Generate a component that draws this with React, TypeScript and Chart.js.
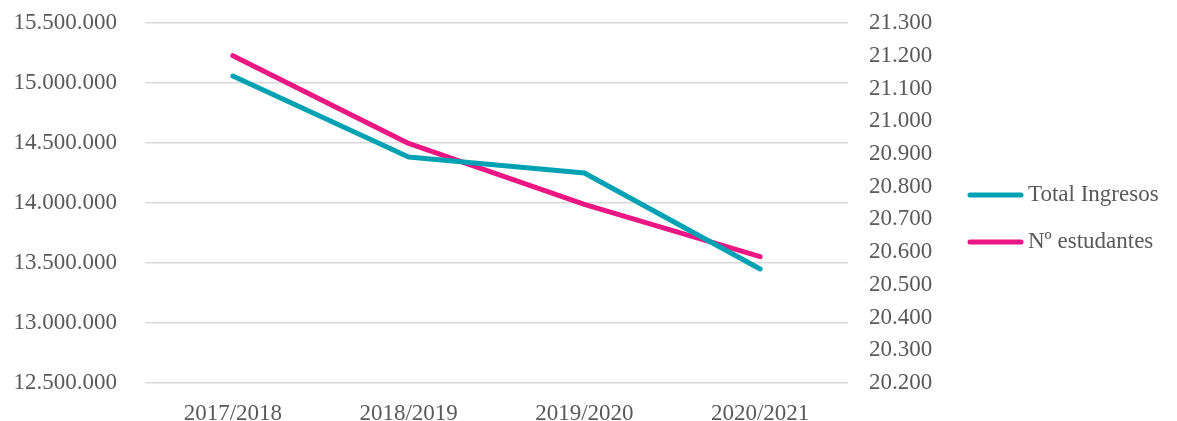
import React, { useEffect, useRef } from "react";
import { Chart, registerables } from "chart.js";

Chart.register(...registerables);

const categories = ["2017/2018", "2018/2019", "2019/2020", "2020/2021"];
const totalIngresos = [15058000, 14383000, 14250000, 13450000];
const numEstudantes = [21200, 20932, 20746, 20586];
const seriesNames = ["Total Ingresos", "Nº estudantes"];
const leftTicks = { min: 12500000, max: 15500000, step: 500000 };
const rightTicks = { min: 20200, max: 21300, step: 100 };

const TEAL = "#00a1b3";
const PINK = "#eb1684";
const TEXT = "#595959";
const FONT = "'Liberation Serif', 'Times New Roman', serif";
const FS = 23;

const fmt = (v: number) =>
  Math.round(v).toString().replace(/\B(?=(\d{3})+(?!\d))/g, ".");

const legendPlugin = {
  id: "customLegend",
  afterDraw(chart: any) {
    const ctx = chart.ctx;
    const x0 = 968;
    const lineLen = 55;
    const ys = [195, 242];
    ctx.save();
    chart.data.datasets.forEach((ds: any, i: number) => {
      const y = ys[i];
      ctx.strokeStyle = ds.borderColor;
      ctx.lineWidth = 5;
      ctx.lineCap = "round";
      ctx.beginPath();
      ctx.moveTo(x0 + 2, y);
      ctx.lineTo(x0 + lineLen - 2, y);
      ctx.stroke();
      ctx.fillStyle = TEXT;
      ctx.font = `${FS}px ${FONT}`;
      ctx.textAlign = "left";
      ctx.textBaseline = "middle";
      ctx.fillText(ds.label, x0 + lineLen + 5, y);
    });
    ctx.restore();
  },
};

export default function App() {
  const ref = useRef<HTMLCanvasElement>(null);
  useEffect(() => {
    let chart: any = null;
    let cancelled = false;
    const make = () => {
      if (cancelled || !ref.current) return;
      chart = new Chart(ref.current, {
        type: "line",
        data: {
          labels: categories,
          datasets: [
            {
              label: seriesNames[0],
              data: totalIngresos,
              yAxisID: "y",
              borderColor: TEAL,
              backgroundColor: TEAL,
              borderWidth: 5,
              borderCapStyle: "round",
              borderJoinStyle: "round",
              pointRadius: 0,
              tension: 0,
            },
            {
              label: seriesNames[1],
              data: numEstudantes,
              yAxisID: "y1",
              borderColor: PINK,
              backgroundColor: PINK,
              borderWidth: 5,
              borderCapStyle: "round",
              borderJoinStyle: "round",
              pointRadius: 0,
              tension: 0,
            },
          ],
        },
        options: {
          animation: false,
          responsive: false,
          maintainAspectRatio: false,
          layout: { padding: { left: 0, right: 239, top: 23, bottom: 0 } },
          plugins: {
            tooltip: { enabled: false },
            legend: { display: false },
          },
          scales: {
            x: {
              offset: true,
              grid: { display: false, drawTicks: false },
              border: { display: false },
              ticks: { color: TEXT, font: { family: FONT, size: FS }, padding: 17, maxRotation: 0 },
              afterFit: (s: any) => {
                s.height = 57;
                s.paddingLeft = 0;
                s.paddingRight = 0;
              },
            },
            y: {
              position: "left",
              min: leftTicks.min,
              max: leftTicks.max,
              grid: { color: "#d9d9d9", lineWidth: 1.5, drawTicks: false },
              border: { display: false },
              ticks: {
                stepSize: leftTicks.step,
                color: TEXT,
                font: { family: FONT, size: FS },
                padding: 28,
                callback: (v: any) => fmt(Number(v)),
              },
              afterFit: (s: any) => {
                s.width = 145;
                s.paddingTop = 0;
                s.paddingBottom = 0;
              },
            },
            y1: {
              position: "right",
              min: rightTicks.min,
              max: rightTicks.max,
              grid: { display: false, drawTicks: false },
              border: { display: false },
              ticks: {
                stepSize: rightTicks.step,
                autoSkip: false,
                color: TEXT,
                font: { family: FONT, size: FS },
                padding: 21,
                callback: (v: any) => fmt(Number(v)),
              },
              afterFit: (s: any) => {
                s.width = 90;
                s.paddingTop = 0;
                s.paddingBottom = 0;
              },
            },
          },
        },
        plugins: [legendPlugin],
      });
    };
    const fonts: any = (document as any).fonts;
    if (fonts && fonts.load) {
      fonts.load(`${FS}px 'Liberation Serif'`).then(make, make);
    } else {
      make();
    }
    return () => {
      cancelled = true;
      if (chart) chart.destroy();
    };
  }, []);
  return (
    <div
      style={{
        position: "fixed",
        left: 0,
        top: 0,
        width: 1177,
        height: 421,
        overflow: "hidden",
        background: "#fff",
      }}
    >
      <canvas ref={ref} width={1177} height={440} style={{ display: "block" }} />
    </div>
  );
}
